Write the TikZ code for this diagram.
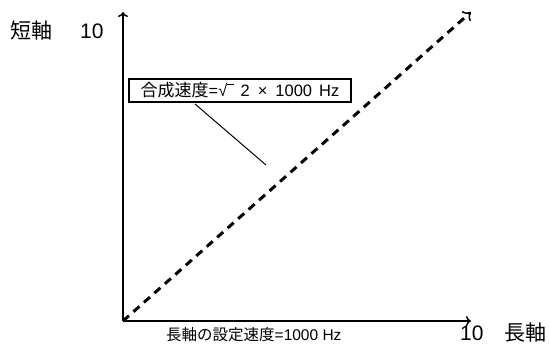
\documentclass[tikz,border=0pt]{standalone}
\usepackage{fontspec}
\setmainfont{Liberation Sans}
\newfontfamily\jp{Noto Sans CJK JP}
\usetikzlibrary{arrows.meta}
\begin{document}
\begin{tikzpicture}[x=1pt,y=-1pt,
  axis/.style={line width=1.5pt,-{To[length=5pt,width=10pt]}},
  lbl/.style={inner sep=0pt,anchor=west,font=\fontsize{21}{21}\selectfont},
  diag/.style={line width=3pt,dash pattern=on 8pt off 6pt,-{To[length=7pt,width=13pt,line width=1.5pt]}}]
\useasboundingbox (0,0) rectangle (549,345);
\coordinate (o) at (123,321);
\coordinate (ytop) at (123,12);
\coordinate (xend) at (471,321);
\coordinate (dtip) at (471,12);
\draw[axis] (o) -- (ytop);
\draw[axis] (o) -- (xend);
\draw[diag] (o) -- (dtip);
\node[lbl] (ylab) at (10,31) {{\jp 短軸}\hspace{28pt}10};
\node[lbl] (xlab) at (460,333) {10\hspace{21pt}{\jp 長軸}};
\node[draw,line width=1.8pt,inner sep=0pt,minimum width=222pt,minimum height=23pt,font=\fontsize{16.5}{16.5}\selectfont] (box) at (240,90.5)
  {{\jp\fontsize{17}{17}\selectfont 合成速度}=√\hspace{-0.8pt}\raisebox{12pt}{\rule{7pt}{0.7pt}}\hspace{7pt}2\hspace{8pt}×\hspace{8pt}1000\hspace{7pt}Hz};
\coordinate (lstart) at (195,104);
\coordinate (lend) at (266,165);
\draw[line width=1pt] (lstart) -- (lend);
\node[inner sep=0pt,anchor=west,font=\fontsize{15.5}{15.5}\selectfont] (bot) at (166,335) {{\jp 長軸の設定速度}=1000 Hz};
\end{tikzpicture}
\end{document}
